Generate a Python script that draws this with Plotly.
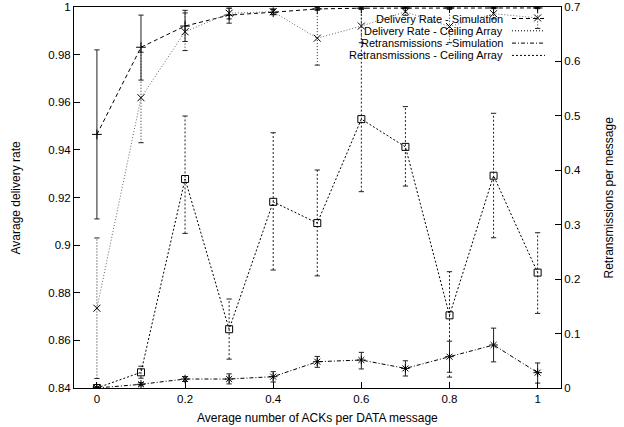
import plotly.graph_objects as go

# ---- data ----
acks = [0.0, 0.1, 0.2, 0.3, 0.4, 0.5, 0.6, 0.7, 0.8, 0.9, 1.0]

dr_sim = [0.9465, 0.9831, 0.9920, 0.9966, 0.9978, 0.9992, 0.9995, 0.9996, 0.9996, 0.9996, 0.9996]
dr_sim_hi = [0.9820, 0.9966, 0.9986, 0.9995, 0.9990, 0.9998, 0.9999, 0.9999, 0.9999, 0.9999, 0.9999]
dr_sim_lo = [0.9110, 0.9693, 0.9855, 0.9932, 0.9968, 0.9986, 0.9991, 0.9993, 0.9993, 0.9993, 0.9993]

dr_ca = [0.8735, 0.9619, 0.9896, 0.9974, 0.9980, 0.9869, 0.9920, 0.9980, 0.9918, 0.9972, 0.9954]
dr_ca_hi = [0.9030, 0.9810, 0.9975, 0.9995, 0.9992, 0.9990, 0.9990, 0.9995, 0.9990, 0.9995, 0.9995]
dr_ca_lo = [0.8440, 0.9430, 0.9817, 0.9950, 0.9968, 0.9756, 0.9850, 0.9965, 0.9850, 0.9950, 0.9910]

rt_sim = [0.0, 0.0068, 0.0165, 0.0165, 0.0208, 0.0483, 0.0514, 0.0360, 0.0575, 0.0790, 0.0282]
rt_sim_hi = [0.002, 0.0100, 0.0210, 0.0260, 0.0300, 0.0580, 0.0655, 0.0500, 0.0860, 0.1100, 0.0460]
rt_sim_lo = [0.0, 0.0040, 0.0120, 0.0075, 0.0110, 0.0380, 0.0350, 0.0220, 0.0290, 0.0480, 0.0090]

rt_ca = [0.0, 0.0288, 0.3840, 0.1080, 0.3420, 0.3030, 0.4940, 0.4430, 0.1335, 0.3900, 0.2120]
rt_ca_hi = [0.002, 0.0400, 0.4997, 0.1635, 0.4690, 0.4005, 0.7200, 0.5170, 0.2137, 0.5047, 0.2853]
rt_ca_lo = [0.0, 0.0180, 0.2840, 0.0530, 0.2168, 0.2060, 0.3607, 0.3710, 0.0200, 0.2760, 0.1370]

x_ticks = [0, 0.2, 0.4, 0.6, 0.8, 1]
legend_names = ["Delivery Rate - Simulation", "Delivery Rate - Ceiling Array",
                "Retransmissions - Simulation", "Retransmissions - Ceiling Array"]
x_title = "Average number of ACKs per DATA message"
y_title = "Avarage delivery rate"
y2_title = "Retransmissions per message"

FONT = "Liberation Sans, Arial, sans-serif"
CAP = 0.006
TXT = 12

fig = go.Figure()


def err_traces(xs, ys, hi, lo, dash, color, yaxis):
    vx, vy, cx, cy = [], [], [], []
    for x, h, l in zip(xs, hi, lo):
        vx += [x, x, None]
        vy += [l, h, None]
        cx += [x - CAP, x + CAP, None, x - CAP, x + CAP, None]
        cy += [l, l, None, h, h, None]
    fig.add_trace(go.Scatter(x=vx, y=vy, mode="lines", yaxis=yaxis, showlegend=False,
                             line=dict(color=color, width=1, dash=dash), hoverinfo="skip"))
    fig.add_trace(go.Scatter(x=cx, y=cy, mode="lines", yaxis=yaxis, showlegend=False,
                             line=dict(color=color, width=1), hoverinfo="skip"))


def series(xs, ys, dash, color, symbol, yaxis, name):
    fig.add_trace(go.Scatter(x=xs, y=ys, mode="lines+markers", yaxis=yaxis, name=name,
                             showlegend=False,
                             line=dict(color=color, width=1, dash=dash),
                             marker=dict(symbol=symbol, size=7, color="black",
                                         line=dict(color="black", width=1))))


DASH_SIM = "4px,3px"
DOT_CA = "1px,2px"
DASHDOT = "4px,2px,1px,2px"
DOT_RT = "2px,2px"

err_traces(acks, dr_sim, dr_sim_hi, dr_sim_lo, "solid", "#222", "y")
err_traces(acks, dr_ca, dr_ca_hi, dr_ca_lo, DOT_CA, "#222", "y")
err_traces(acks, rt_sim, rt_sim_hi, rt_sim_lo, "solid", "#222", "y2")
err_traces(acks, rt_ca, rt_ca_hi, rt_ca_lo, DOT_RT, "#222", "y2")

series(acks, dr_sim, DASH_SIM, "black", "cross-thin-open", "y", legend_names[0])
series(acks, dr_ca, DOT_CA, "#666", "x-thin-open", "y", legend_names[1])
series(acks, rt_sim, DASHDOT, "black", "asterisk-open", "y2", legend_names[2])
series(acks, rt_ca, DOT_RT, "black", "square-open", "y2", legend_names[3])

# plot area in pixels (for placing legend / titles)
L, R, T, B = 74, 561, 7, 388
W, H = R - L, B - T

# custom gnuplot-style legend (text right-aligned, sample on right)
styles = [DASH_SIM, DOT_CA, DASHDOT, DOT_RT]
for i, (nm, st) in enumerate(zip(legend_names, styles)):
    py = 18.5 + i * 12.3
    yp = (B - py) / H
    fig.add_annotation(x=(504 - L) / W, y=yp, xref="paper", yref="paper", text=nm,
                       showarrow=False, xanchor="right", yanchor="middle", borderpad=0,
                       font=dict(family=FONT, size=11, color="black"))
    fig.add_shape(type="line", xref="paper", yref="paper",
                  x0=(512 - L) / W, x1=(545 - L) / W, y0=yp, y1=yp,
                  line=dict(color="black", width=1, dash=st))

# axis titles
fig.add_annotation(x=(317 - L) / W, y=(B - 418) / H, xref="paper", yref="paper",
                   text=x_title, showarrow=False, xanchor="center", yanchor="middle",
                   font=dict(family=FONT, size=TXT, color="black"))
fig.add_annotation(x=(15 - L) / W, y=0.5, xref="paper", yref="paper", textangle=-90,
                   text=y_title, showarrow=False, xanchor="center", yanchor="middle",
                   font=dict(family=FONT, size=TXT, color="black"))
fig.add_annotation(x=(608 - L) / W, y=0.5, xref="paper", yref="paper", textangle=-90,
                   text=y2_title, showarrow=False, xanchor="center", yanchor="middle",
                   font=dict(family=FONT, size=TXT, color="black"))

axis_common = dict(showline=True, linecolor="black", linewidth=1, ticks="inside",
                   ticklen=6, tickcolor="black", showgrid=False, zeroline=False,
                   automargin=False,
                   tickfont=dict(family=FONT, size=11.5, color="black"))

fig.update_layout(
    width=624, height=427,
    margin=dict(l=L, r=624 - R, t=T, b=427 - B, autoexpand=False),
    plot_bgcolor="white", paper_bgcolor="white",
    font=dict(family=FONT, size=11, color="black"),
    xaxis=dict(range=[-0.052, 1.053], tickvals=x_ticks, mirror=True, **axis_common),
    yaxis=dict(range=[0.84, 1.0], dtick=0.02, tick0=0.84, **axis_common),
    yaxis2=dict(range=[0, 0.7], dtick=0.1, overlaying="y", side="right", **axis_common),
    showlegend=False,
)

fig.write_html("out.html",
               config={"displayModeBar": False},
               post_script="document.body.style.margin='0px';"
                           "document.body.style.overflow='hidden';")
